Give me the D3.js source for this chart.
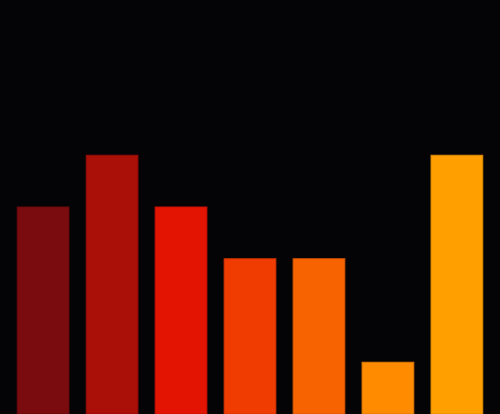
<!DOCTYPE html>
<html>
<head>
<meta charset="utf-8">
<script src="https://cdn.jsdelivr.net/npm/d3@7"></script>
<style>
  html, body { margin: 0; padding: 0; background: #040306; }
  svg { display: block; }
</style>
</head>
<body>
<script>
// datos de las barras
const categorias = ["A", "B", "C", "D", "E", "F", "G"];
const valores = [4, 5, 4, 3, 3, 1, 5];
const colores = ["#7a0c0f", "#aa0f08", "#e31502", "#f03c00", "#f76300", "#ff8c00", "#ffa000"];

const width = 500;
const height = 414;

const svg = d3
  .select("body")
  .append("svg")
  .attr("width", width)
  .attr("height", height)
  .style("background", "#040306");

// escalas
const x = d3.scaleBand().domain(categorias).range([0, width]).padding(0.25);
const y = d3.scaleLinear().domain([0, 8]).range([height, 0]);

svg
  .selectAll("rect")
  .data(valores)
  .enter()
  .append("rect")
  .attr("x", (d, i) => x(categorias[i]))
  .attr("y", (d) => y(d))
  .attr("width", x.bandwidth())
  .attr("height", (d) => height - y(d))
  .style("fill", (d, i) => colores[i])
  .style("stroke", (d, i) => d3.color(colores[i]).darker(0.4))
  .style("stroke-width", 1);
</script>
</body>
</html>
